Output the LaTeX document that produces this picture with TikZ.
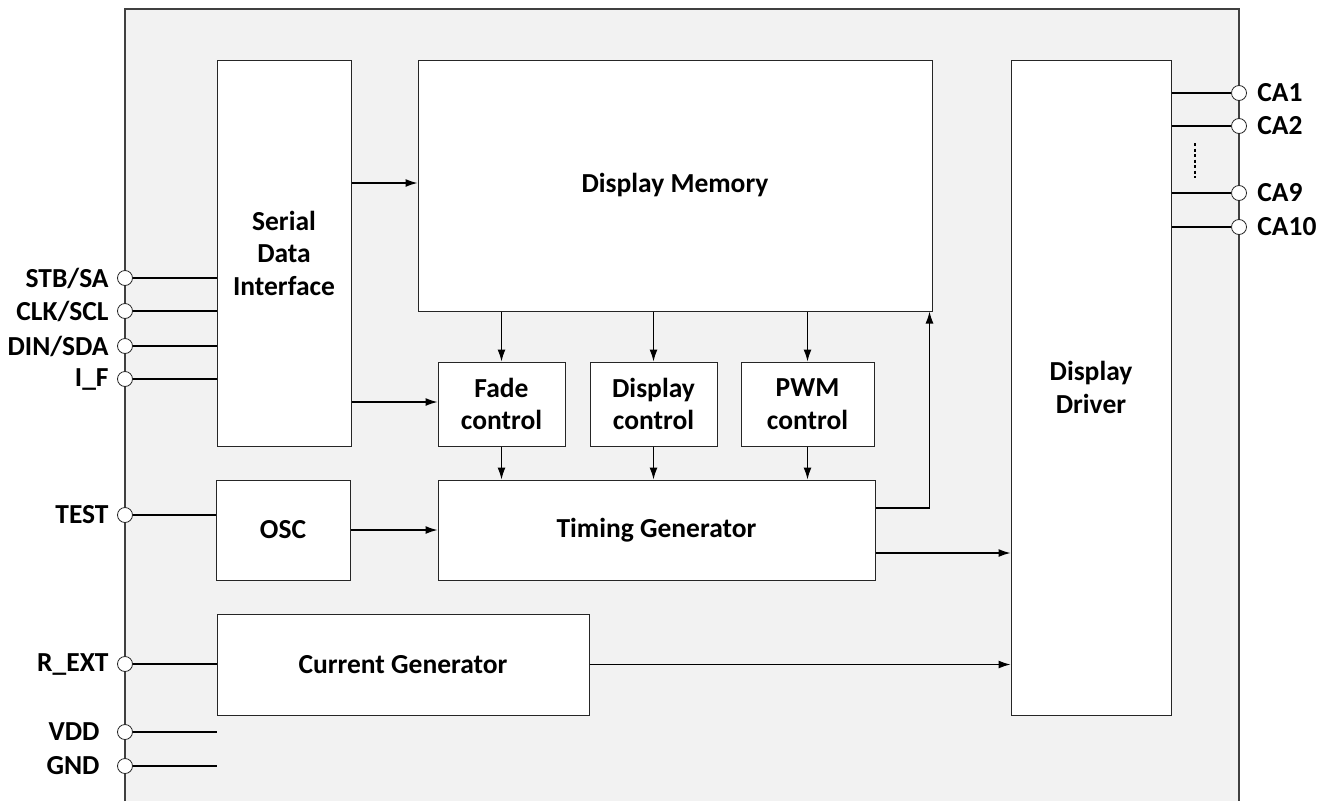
\documentclass[tikz,border=0pt]{standalone}
\usepackage{fontspec}
\setmainfont{Carlito}
\usetikzlibrary{arrows.meta}

\tikzset{
    lbl/.style={font=\bfseries\fontsize{27.5}{32.5}\selectfont},
    block/.style={lbl, draw=black!85, fill=white, line width=1pt, align=center, inner sep=0pt},
    pad/.style={circle, draw=black!85, fill=white, line width=0.8pt, minimum size=15pt, inner sep=0pt},
    wire/.style={line width=1.2pt},
    arr/.style={wire, -{Latex[length=12pt, width=8pt]}}
}

\begin{document}
\begin{tikzpicture}[x=1pt, y=-1pt]
    \useasboundingbox (0,0) rectangle (1333,801);
    \fill[gray!10] (125,9) rectangle (1239,801);
    \draw[black!75, line width=1.2pt] (125,801) |- (1239,9) -- (1239,801);

    \node[block, minimum width=134pt, minimum height=386pt] (sdi) at (284,253) {Serial\\Data\\Interface};
    \node[block, minimum width=514pt, minimum height=251pt] (mem) at (675,185.5) {Display Memory};
    \node[block, minimum width=127pt, minimum height=84pt] (fade) at (501.5,404) {Fade\\control};
    \node[block, minimum width=127pt, minimum height=84pt] (dctl) at (653.5,404) {Display\\control};
    \node[block, minimum width=133pt, minimum height=84pt] (pwm) at (807.5,404) {PWM\\control};
    \node[block, minimum width=134pt, minimum height=100pt] (osc) at (283,530) {OSC};
    \node[block, minimum width=437pt, minimum height=100pt] (tg) at (656.5,530) {Timing Generator};
    \node[block, minimum width=372pt, minimum height=101pt] (cur) at (403,664.5) {Current Generator};
    \node[block, minimum width=160pt, minimum height=655pt] (drv) at (1091,387.5) {Display\\Driver};

    \foreach \y/\n/\t in {278/stb/{STB/SA}, 311/clk/{CLK/SCL}, 346/din/{DIN/SDA}, 379/if/{I\_F}}{
        \node[pad] (\n) at (125,\y) {};
        \node[lbl, anchor=east] at ([xshift=-5pt]\n.west) {\t};
        \draw[wire] (\n.east) -- (\n.east -| sdi.west);
    }
    \node[pad] (test) at (125,515) {};
    \node[lbl, anchor=east] at ([xshift=-5pt]test.west) {TEST};
    \draw[wire] (test.east) -- (test.east -| osc.west);
    \node[pad] (rext) at (125,664) {};
    \node[lbl, anchor=east] at ([xshift=-5pt]rext.west) {R\_EXT};
    \draw[wire] (rext.east) -- (rext.east -| cur.west);
    \foreach \y/\n/\t in {732/vdd/VDD, 766/gnd/GND}{
        \node[pad] (\n) at (125,\y) {};
        \node[lbl, anchor=east] at ([xshift=-14pt]\n.west) {\t};
        \draw[wire] (\n.east) -- (\n.east -| sdi.west);
    }

    \foreach \y/\n/\t in {93/ca1/CA1, 126/ca2/CA2, 193/ca9/CA9, 227/ca10/CA10}{
        \node[pad] (\n) at (1239,\y) {};
        \node[lbl, anchor=west] at ([xshift=7pt]\n.east) {\t};
        \draw[wire] (\n.west -| drv.east) -- (\n.west);
    }
    \draw[line width=2pt, dash pattern=on 3pt off 2.5pt] (1195,143) -- (1195,178);

    \draw[arr] ([yshift=70pt]sdi.east) -- ([yshift=70pt]sdi.east -| mem.west);
    \draw[arr] ([yshift=-149pt]sdi.east) -- ([yshift=-149pt]sdi.east -| fade.west);
    \foreach \n in {fade, dctl, pwm}{
        \draw[arr] (\n.north |- mem.south) -- (\n.north);
        \draw[arr] (\n.south) -- (\n.south |- tg.north);
    }
    \draw[arr] (osc.east) -- (tg.west);
    \draw[arr] ([yshift=22pt]tg.east) -| ([xshift=-3pt]mem.south east);
    \draw[arr] ([yshift=-23pt]tg.east) -- ([yshift=-23pt]tg.east -| drv.west);
    \draw[arr] (cur.east) -- (cur.east -| drv.west);
\end{tikzpicture}
\end{document}
